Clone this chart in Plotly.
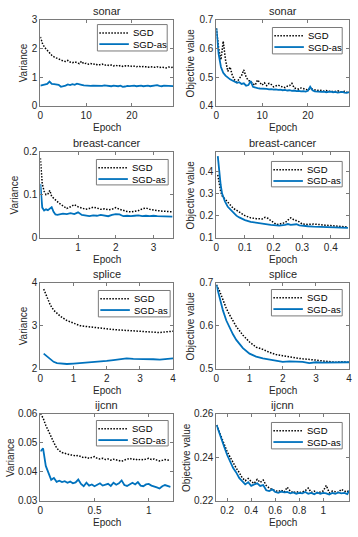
import plotly.graph_objects as go
from plotly.subplots import make_subplots

# ---- data ----
sonar_x = [0, 0.5, 1, 1.5, 2, 2.5, 3, 3.5, 4, 4.5,
           5, 5.5, 6, 6.5, 7, 7.5, 8, 8.5, 9, 9.5,
           10, 10.5, 11, 11.5, 12, 12.5, 13, 13.5, 14, 14.5,
           15, 15.5, 16, 16.5, 17, 17.5, 18, 18.5, 19, 19.5,
           20, 20.5, 21, 21.5, 22, 22.5, 23, 23.5, 24, 24.5,
           25, 25.5, 26, 26.5, 27, 27.5, 28, 28.5, 29]
sonar_var_sgd = [2.40, 2.15, 2.02, 1.92, 1.84, 1.76, 1.70, 1.66, 1.63, 1.60,
                 1.56, 1.54, 1.58, 1.52, 1.50, 1.53, 1.49, 1.47, 1.55, 1.46,
                 1.48, 1.45, 1.47, 1.44, 1.46, 1.42, 1.43, 1.45, 1.41, 1.43,
                 1.40, 1.42, 1.39, 1.41, 1.38, 1.40, 1.37, 1.39, 1.38, 1.40,
                 1.37, 1.38, 1.36, 1.38, 1.35, 1.37, 1.36, 1.34, 1.36, 1.35,
                 1.34, 1.36, 1.33, 1.35, 1.34, 1.32, 1.35, 1.33, 1.34]
sonar_var_as = [0.70, 0.72, 0.73, 0.76, 0.84, 0.76, 0.75, 0.74, 0.73, 0.66,
                0.67, 0.70, 0.74, 0.72, 0.75, 0.73, 0.77, 0.76, 0.73, 0.71,
                0.70, 0.71, 0.69, 0.70, 0.70, 0.68, 0.70, 0.69, 0.71, 0.70,
                0.69, 0.68, 0.70, 0.69, 0.68, 0.70, 0.66, 0.67, 0.69, 0.68,
                0.69, 0.70, 0.68, 0.69, 0.70, 0.68, 0.69, 0.70, 0.68, 0.69,
                0.70, 0.72, 0.69, 0.68, 0.70, 0.69, 0.68, 0.69, 0.68]
sonar_obj_sgd = [0.670, 0.600, 0.560, 0.625, 0.560, 0.520, 0.535, 0.505, 0.490, 0.482,
                 0.495, 0.505, 0.525, 0.500, 0.488, 0.485, 0.476, 0.472, 0.490, 0.480,
                 0.472, 0.480, 0.470, 0.478, 0.474, 0.466, 0.470, 0.472, 0.468, 0.465,
                 0.463, 0.468, 0.470, 0.478, 0.462, 0.460, 0.458, 0.462, 0.459, 0.458,
                 0.455, 0.460, 0.457, 0.455, 0.453, 0.455, 0.452, 0.451, 0.453, 0.450,
                 0.451, 0.449, 0.450, 0.452, 0.449, 0.448, 0.450, 0.447, 0.448]
sonar_obj_as = [0.670, 0.580, 0.535, 0.515, 0.505, 0.498, 0.492, 0.488, 0.484, 0.480,
                0.482, 0.476, 0.478, 0.470, 0.472, 0.486, 0.466, 0.463, 0.461, 0.460,
                0.460, 0.458, 0.459, 0.457, 0.458, 0.456, 0.457, 0.455, 0.456, 0.454,
                0.455, 0.453, 0.454, 0.452, 0.453, 0.451, 0.452, 0.450, 0.451, 0.449,
                0.452, 0.466, 0.454, 0.450, 0.449, 0.450, 0.448, 0.449, 0.447, 0.448,
                0.449, 0.447, 0.448, 0.446, 0.447, 0.448, 0.446, 0.445, 0.447]

bc_var_x = [0, 0.02, 0.05, 0.1, 0.15, 0.2, 0.25, 0.3, 0.35, 0.4,
            0.45, 0.5, 0.6, 0.7, 0.8, 0.9, 1.0, 1.1, 1.2, 1.3,
            1.4, 1.5, 1.6, 1.7, 1.8, 1.9, 2.0, 2.1, 2.2, 2.3,
            2.4, 2.5, 2.6, 2.7, 2.8, 2.9, 3.0, 3.1, 3.2, 3.3,
            3.4, 3.5]
bc_var_sgd = [0.185, 0.150, 0.125, 0.108, 0.100, 0.102, 0.110, 0.096, 0.092, 0.086,
              0.084, 0.080, 0.074, 0.068, 0.072, 0.077, 0.072, 0.069, 0.066, 0.068,
              0.071, 0.069, 0.066, 0.067, 0.065, 0.066, 0.070, 0.066, 0.063, 0.061,
              0.060, 0.062, 0.063, 0.067, 0.069, 0.066, 0.064, 0.063, 0.062, 0.061,
              0.061, 0.060]
bc_var_as = [0.125, 0.095, 0.070, 0.063, 0.066, 0.064, 0.068, 0.071, 0.060, 0.054,
             0.053, 0.054, 0.056, 0.055, 0.057, 0.055, 0.059, 0.053, 0.051, 0.050,
             0.052, 0.051, 0.053, 0.052, 0.050, 0.053, 0.055, 0.054, 0.050, 0.051,
             0.050, 0.051, 0.052, 0.050, 0.051, 0.050, 0.051, 0.050, 0.050, 0.049,
             0.050, 0.049]

bc_obj_x = [0.005, 0.01, 0.015, 0.02, 0.03, 0.04, 0.05, 0.06, 0.07, 0.08,
            0.09, 0.10, 0.12, 0.14, 0.16, 0.17, 0.18, 0.19, 0.20, 0.21,
            0.22, 0.24, 0.25, 0.26, 0.27, 0.28, 0.29, 0.30, 0.32, 0.34,
            0.36, 0.38, 0.40, 0.42, 0.44, 0.46]
bc_obj_sgd = [0.385, 0.340, 0.310, 0.290, 0.275, 0.262, 0.245, 0.232, 0.225, 0.215,
              0.208, 0.200, 0.190, 0.186, 0.185, 0.192, 0.188, 0.178, 0.168, 0.160,
              0.162, 0.168, 0.180, 0.190, 0.182, 0.178, 0.172, 0.162, 0.160, 0.162,
              0.158, 0.157, 0.155, 0.153, 0.150, 0.148]
bc_obj_as = [0.470, 0.400, 0.340, 0.300, 0.265, 0.240, 0.225, 0.210, 0.200, 0.192,
             0.185, 0.180, 0.172, 0.167, 0.163, 0.161, 0.160, 0.158, 0.157, 0.155,
             0.155, 0.158, 0.162, 0.158, 0.160, 0.161, 0.156, 0.154, 0.152, 0.150,
             0.149, 0.148, 0.148, 0.147, 0.146, 0.145]

splice_var_x = [0.1, 0.2, 0.3, 0.4, 0.5, 0.6, 0.8, 1.0, 1.2, 1.4,
                1.6, 1.8, 2.0, 2.2, 2.4, 2.6, 2.8, 3.0, 3.2, 3.4,
                3.6, 3.8, 4.0]
splice_var_sgd = [3.85, 3.65, 3.48, 3.36, 3.28, 3.22, 3.12, 3.06, 3.00, 2.98,
                  2.96, 2.94, 2.93, 2.91, 2.90, 2.89, 2.88, 2.88, 2.87, 2.86,
                  2.84, 2.86, 2.87]
splice_var_as = [2.35, 2.28, 2.21, 2.16, 2.13, 2.12, 2.11, 2.12, 2.13, 2.14,
                 2.15, 2.16, 2.18, 2.20, 2.22, 2.24, 2.23, 2.23, 2.22, 2.22,
                 2.21, 2.22, 2.24]

splice_obj_x = [0, 0.1, 0.2, 0.3, 0.4, 0.5, 0.6, 0.8, 1.0, 1.2,
                1.4, 1.6, 1.8, 2.0, 2.2, 2.4, 2.6, 2.8, 3.0, 3.2,
                3.4, 3.6, 3.8, 4.0]
splice_obj_sgd = [0.695, 0.680, 0.660, 0.640, 0.625, 0.610, 0.598, 0.578, 0.562, 0.550,
                  0.545, 0.538, 0.533, 0.530, 0.527, 0.525, 0.523, 0.522, 0.520, 0.518,
                  0.516, 0.515, 0.516, 0.515]
splice_obj_as = [0.695, 0.665, 0.635, 0.612, 0.595, 0.580, 0.567, 0.548, 0.535, 0.528,
                 0.524, 0.521, 0.518, 0.516, 0.517, 0.516, 0.516, 0.513, 0.515, 0.514,
                 0.514, 0.515, 0.514, 0.515]

ijcnn_var_x = [0, 0.025, 0.05, 0.075, 0.1, 0.125, 0.15, 0.175, 0.2, 0.225,
               0.25, 0.275, 0.3, 0.325, 0.35, 0.375, 0.4, 0.425, 0.45, 0.475,
               0.5, 0.525, 0.55, 0.575, 0.6, 0.625, 0.65, 0.675, 0.7, 0.725,
               0.75, 0.775, 0.8, 0.825, 0.85, 0.875, 0.9, 0.925, 0.95, 0.975,
               1.0, 1.025, 1.05, 1.075, 1.1, 1.125, 1.15, 1.175, 1.2]
ijcnn_var_sgd = [0.0600, 0.0585, 0.0560, 0.0540, 0.0515, 0.0500, 0.0482, 0.0472, 0.0466, 0.0463,
                 0.0460, 0.0458, 0.0457, 0.0454, 0.0456, 0.0452, 0.0448, 0.0450, 0.0446, 0.0449,
                 0.0452, 0.0446, 0.0444, 0.0446, 0.0442, 0.0444, 0.0440, 0.0443, 0.0441, 0.0438,
                 0.0436, 0.0440, 0.0444, 0.0446, 0.0442, 0.0444, 0.0440, 0.0443, 0.0441, 0.0444,
                 0.0446, 0.0442, 0.0444, 0.0440, 0.0437, 0.0439, 0.0442, 0.0440, 0.0438]
ijcnn_var_as = [0.0470, 0.0480, 0.0420, 0.0395, 0.0372, 0.0378, 0.0365, 0.0369, 0.0364, 0.0367,
                0.0362, 0.0366, 0.0360, 0.0363, 0.0373, 0.0358, 0.0350, 0.0362, 0.0352, 0.0356,
                0.0350, 0.0355, 0.0360, 0.0352, 0.0354, 0.0358, 0.0351, 0.0362, 0.0355, 0.0360,
                0.0370, 0.0354, 0.0351, 0.0357, 0.0362, 0.0356, 0.0364, 0.0352, 0.0350, 0.0356,
                0.0358, 0.0352, 0.0350, 0.0346, 0.0342, 0.0350, 0.0354, 0.0352, 0.0348]

ijcnn_obj_x = [0.112, 0.15, 0.175, 0.2, 0.225, 0.25, 0.275, 0.3, 0.325, 0.35,
               0.375, 0.4, 0.425, 0.45, 0.475, 0.5, 0.525, 0.55, 0.575, 0.6,
               0.625, 0.65, 0.675, 0.7, 0.725, 0.75, 0.775, 0.8, 0.825, 0.85,
               0.875, 0.9, 0.925, 0.95, 0.975, 1.0, 1.025, 1.05, 1.075, 1.1,
               1.125, 1.15, 1.175, 1.2, 1.215]
ijcnn_obj_sgd = [0.2548, 0.2490, 0.2460, 0.2425, 0.2400, 0.2372, 0.2350, 0.2330, 0.2305, 0.2292,
                 0.2302, 0.2288, 0.2280, 0.2298, 0.2284, 0.2295, 0.2270, 0.2258, 0.2250, 0.2246,
                 0.2242, 0.2248, 0.2240, 0.2262, 0.2244, 0.2236, 0.2242, 0.2238, 0.2240, 0.2246,
                 0.2258, 0.2238, 0.2244, 0.2236, 0.2240, 0.2245, 0.2270, 0.2236, 0.2244, 0.2242,
                 0.2238, 0.2252, 0.2244, 0.2240, 0.2250]
ijcnn_obj_as = [0.2548, 0.2482, 0.2448, 0.2410, 0.2380, 0.2350, 0.2330, 0.2305, 0.2290, 0.2275,
                0.2285, 0.2268, 0.2275, 0.2280, 0.2268, 0.2272, 0.2248, 0.2244, 0.2252, 0.2240,
                0.2236, 0.2242, 0.2238, 0.2240, 0.2234, 0.2238, 0.2232, 0.2236, 0.2234, 0.2240,
                0.2232, 0.2236, 0.2230, 0.2238, 0.2232, 0.2236, 0.2234, 0.2228, 0.2236, 0.2232,
                0.2238, 0.2234, 0.2236, 0.2230, 0.2246]

# tick labels per panel
sonar_xticks = [0, 10, 20]
sonar_var_yticks = [0, 1, 2, 3]
sonar_obj_yticks = [0.4, 0.5, 0.6, 0.7]
bc_var_xticks = [1, 2, 3]
bc_var_yticks = [0, 0.1, 0.2]
bc_obj_xticks = [0, 0.1, 0.2, 0.3, 0.4]
bc_obj_yticks = [0.1, 0.2, 0.3, 0.4]
splice_xticks = [0, 1, 2, 3, 4]
splice_var_yticks = [2, 3, 4]
splice_obj_yticks = [0.5, 0.6, 0.7]
ijcnn_var_xticks = [0, 0.5, 1]
ijcnn_var_yticks = [0.03, 0.04, 0.05, 0.06]
ijcnn_obj_xticks = [0.2, 0.4, 0.6, 0.8, 1]
ijcnn_obj_yticks = [0.22, 0.24, 0.26]

# ---- layout constants (pixels in a 358x537 page) ----
W, H = 358, 537
FONT = "Liberation Sans, Arial, sans-serif"
TXT = "#262626"
BLUE = "#0072BD"
DOTS = "1.5px,1.5px"
COLS = [(38, 173), (217, 352)]
ROWS = [(14, 102), (149, 237), (283, 371), (417, 506)]

panels = [
    # row, col, title, x, sgd, sgd_as, xrange, yrange, xticks, yticks,
    # ylabel, ylabel x (px), legend box (x0, x1, y0, y1)
    (1, 1, "sonar", sonar_x, sonar_var_sgd, sonar_var_as, [0, 29], [0, 3],
     sonar_xticks, sonar_var_yticks, "Variance", 21, (96, 167, 19, 46)),
    (1, 2, "sonar", sonar_x, sonar_obj_sgd, sonar_obj_as, [0, 29], [0.4, 0.7],
     sonar_xticks, sonar_obj_yticks, "Objective value", 191, (274, 345, 22, 49)),
    (2, 1, "breast-cancer", bc_var_x, bc_var_sgd, bc_var_as, [0, 3.52], [0, 0.2],
     bc_var_xticks, bc_var_yticks, "Variance", 12, (95, 168, 157, 183)),
    (2, 2, "breast-cancer", bc_obj_x, bc_obj_sgd, bc_obj_as, [0, 0.464], [0.1, 0.49],
     bc_obj_xticks, bc_obj_yticks, "Objective value", 191, (273, 345, 159, 185)),
    (3, 1, "splice", splice_var_x, splice_var_sgd, splice_var_as, [0, 4], [2, 4],
     splice_xticks, splice_var_yticks, "Variance", 21, (97, 170, 291, 318)),
    (3, 2, "splice", splice_obj_x, splice_obj_sgd, splice_obj_as, [0, 4], [0.5, 0.7],
     splice_xticks, splice_obj_yticks, "Objective value", 191, (273, 345, 290, 317)),
    (4, 1, "ijcnn", ijcnn_var_x, ijcnn_var_sgd, ijcnn_var_as, [0, 1.225], [0.03, 0.06],
     ijcnn_var_xticks, ijcnn_var_yticks, "Variance", 7, (95, 168, 424, 450)),
    (4, 2, "ijcnn", ijcnn_obj_x, ijcnn_obj_sgd, ijcnn_obj_as, [0.11, 1.215], [0.22, 0.26],
     ijcnn_obj_xticks, ijcnn_obj_yticks, "Objective value", 186, (273, 345, 426, 453)),
]


def px(x):
    return x / W


def py(y):
    return 1 - y / H


def fmt(v):
    return f"{v:g}"


fig = make_subplots(rows=4, cols=2)
shapes = []
annotations = []

for row, col, title, x, sgd, sgd_as, xr, yr, xt, yt, ylab, ylab_x, lg in panels:
    fig.add_trace(
        go.Scatter(x=x, y=sgd, mode="lines", name="SGD", showlegend=False,
                   line=dict(color="black", dash=DOTS, width=1.5)),
        row=row, col=col,
    )
    fig.add_trace(
        go.Scatter(x=x, y=sgd_as, mode="lines", name="SGD-as", showlegend=False,
                   line=dict(color=BLUE, width=1.8)),
        row=row, col=col,
    )

    x0, x1 = COLS[col - 1]
    y0, y1 = ROWS[row - 1]
    axis_style = dict(
        showline=True, mirror="ticks", linecolor="#7a7a7a", linewidth=1,
        ticks="inside", ticklen=3, tickcolor="#7a7a7a", showgrid=False, zeroline=False,
        tickfont=dict(family=FONT, size=10, color=TXT), ticklabeloverflow="allow",
    )
    fig.update_xaxes(
        domain=[px(x0), px(x1)], range=xr, tickvals=xt, ticktext=[fmt(v) for v in xt],
        row=row, col=col, **axis_style,
    )
    fig.update_yaxes(
        domain=[py(y1), py(y0)], range=yr, tickvals=yt, ticktext=[fmt(v) for v in yt],
        row=row, col=col, **axis_style,
    )

    # panel title
    annotations.append(dict(
        text=title, x=px((x0 + x1) / 2), y=py(y0 - 1), xref="paper", yref="paper",
        xanchor="center", yanchor="bottom", showarrow=False,
        font=dict(family=FONT, size=11, color=TXT),
    ))
    # axis titles
    annotations.append(dict(
        text="Epoch", x=px((x0 + x1) / 2), y=py(y1 + 22), xref="paper", yref="paper",
        xanchor="center", yanchor="middle", showarrow=False,
        font=dict(family=FONT, size=10, color=TXT),
    ))
    annotations.append(dict(
        text=ylab, x=px(ylab_x), y=py((y0 + y1) / 2), xref="paper", yref="paper",
        xanchor="center", yanchor="middle", showarrow=False, textangle=-90,
        font=dict(family=FONT, size=10, color=TXT),
    ))

    # legend box drawn by hand (MATLAB style, compact)
    lx0, lx1, ly0, ly1 = lg
    shapes.append(dict(type="rect", xref="paper", yref="paper",
                       x0=px(lx0), x1=px(lx1), y0=py(ly1), y1=py(ly0),
                       line=dict(color="#7a7a7a", width=1), fillcolor="white", layer="above"))
    for i, (name, style) in enumerate([
        ("SGD", dict(color="black", dash=DOTS, width=1.5)),
        ("SGD-as", dict(color=BLUE, width=1.8)),
    ]):
        yc = ly0 + 8.5 + i * 11.5
        shapes.append(dict(type="line", xref="paper", yref="paper",
                           x0=px(lx0 + 2), x1=px(lx0 + 32), y0=py(yc), y1=py(yc),
                           line=style, layer="above"))
        annotations.append(dict(
            text=name, x=px(lx0 + 34), y=py(yc), xref="paper", yref="paper",
            xanchor="left", yanchor="middle", showarrow=False,
            font=dict(family=FONT, size=9.5, color="black"),
        ))

fig.update_layout(
    width=W, height=H,
    margin=dict(l=0, r=0, t=0, b=0),
    paper_bgcolor="white", plot_bgcolor="white",
    font=dict(family=FONT, size=10, color=TXT),
    shapes=shapes, annotations=annotations,
    showlegend=False,
)

# the default page keeps an 8px body margin; drop it so the figure sits at (0, 0)
fig.write_html(
    "out.html",
    config={"displayModeBar": False},
    post_script="document.body.style.margin = '0';",
)
